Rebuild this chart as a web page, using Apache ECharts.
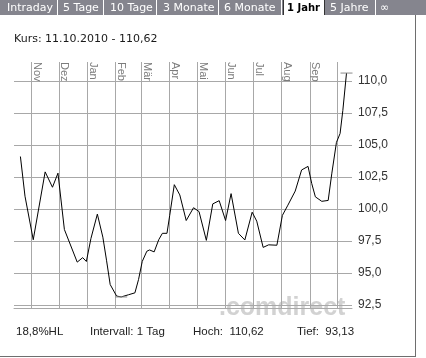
<!DOCTYPE html>
<html><head><meta charset="utf-8">
<script src="https://cdn.jsdelivr.net/npm/echarts@6/dist/echarts.min.js"></script>
<style>html,body{margin:0;padding:0;background:#fff}#c{width:426px;height:358px}</style>
</head><body><div id="c"></div>
<script>
// ---- data ----
const dates = ['2009-10-20','2009-10-25','2009-11-03','2009-11-16','2009-11-24','2009-11-30','2009-12-07','2009-12-21','2009-12-27','2009-12-31','2010-01-05','2010-01-12','2010-01-18','2010-01-22','2010-01-26','2010-02-02','2010-02-07','2010-02-15','2010-02-22','2010-02-26','2010-03-02','2010-03-07','2010-03-10','2010-03-15','2010-03-20','2010-03-24','2010-03-29','2010-04-01','2010-04-06','2010-04-12','2010-04-19','2010-04-27','2010-05-03','2010-05-11','2010-05-18','2010-05-25','2010-06-01','2010-06-07','2010-06-15','2010-06-22','2010-06-30','2010-07-05','2010-07-12','2010-07-18','2010-07-27','2010-08-02','2010-08-08','2010-08-16','2010-08-23','2010-08-30','2010-09-03','2010-09-07','2010-09-14','2010-09-21','2010-09-25','2010-09-30','2010-10-04','2010-10-07','2010-10-11'];
const prices = [104.1,101.0,97.6,102.9,101.7,102.8,98.4,95.85,96.2,95.9,97.7,99.6,97.8,96.0,94.1,93.2,93.13,93.3,93.45,94.5,95.9,96.7,96.8,96.65,97.6,98.1,98.1,99.5,101.9,101.1,99.1,100.1,99.8,97.55,100.4,100.65,99.1,101.2,98.1,97.58,99.75,99.05,97.0,97.2,97.17,99.5,100.3,101.4,103.05,103.33,102.0,100.95,100.6,100.67,102.8,105.2,105.9,107.7,110.62];
const monthTicks = ['2009-11-01','2009-12-01','2010-01-01','2010-02-01','2010-03-01','2010-04-01','2010-05-01','2010-06-01','2010-07-01','2010-08-01','2010-09-01','2010-10-01'];
const monthLabels = ['Nov','Dez','Jan','Feb','Mär','Apr','Mai','Jun','Jul','Aug','Sep',''];
const yTicks = [92.5,95,97.5,100,102.5,105,107.5,110];
const xRange = ['2009-10-13','2010-10-17'];
const yRange = [92.266, 111.484];
const tabs = ['Intraday','5 Tage','10 Tage','3 Monate','6 Monate','1 Jahr','5 Jahre','∞'];
const headline = 'Kurs: 11.10.2010 - 110,62';
const footer = ['18,8%HL','Intervall: 1 Tag','Hoch:  110,62','Tief:  93,13'];

// ---- helpers ----
const t = s => { const p = s.split('-').map(Number); return new Date(p[0], p[1]-1, p[2]).getTime(); };
const monthTs = monthTicks.map(t);
const seriesData = dates.map((d,i) => [t(d), prices[i]]);
const fmtY = v => v.toFixed(1).replace('.', ',');
const GRID = '#a8a8a8';

const tabX = [7,63,110,163,224,287,330,380];
const sepX = [57.5,103.5,156.5,218.5,281.5,375.5];
const footX = [16,90,193,297];

const graphic = [
  {type:'rect', shape:{x:0,y:0,width:426,height:15}, style:{fill:'#85858e'}, z:1},
  {type:'rect', shape:{x:283,y:0,width:41,height:15}, style:{fill:'#ffffff'}, z:2},
  {type:'line', shape:{x1:283.5,y1:0,x2:283.5,y2:15}, style:{stroke:'#333',lineWidth:1}, z:3},
  {type:'line', shape:{x1:324.5,y1:0,x2:324.5,y2:15}, style:{stroke:'#333',lineWidth:1}, z:3},
  ...sepX.map(x => ({type:'line', shape:{x1:x,y1:0,x2:x,y2:15}, style:{stroke:'#ffffff',lineWidth:1}, z:3})),
  ...tabs.map((s,i) => ({type:'text', z:4, style:{text:s, x:tabX[i], y:8, fill: i===5?'#000':'#ffffff',
      fontSize: i===5?10:11, fontFamily:'DejaVu Sans', fontWeight: i===5?'bold':'normal', verticalAlign:'middle', align:'left'}})),
  {type:'line', shape:{x1:415.5,y1:15,x2:415.5,y2:357}, style:{stroke:'#6e6e6e',lineWidth:1}, z:3},
  {type:'line', shape:{x1:0,y1:356.5,x2:416,y2:356.5}, style:{stroke:'#6e6e6e',lineWidth:1}, z:3},
  {type:'text', z:4, style:{text:headline, x:14, y:39, fill:'#1a1a1a', fontSize:11, fontFamily:'DejaVu Sans', verticalAlign:'middle'}},
  ...footer.map((s,i) => ({type:'text', z:4, style:{text:s, x:footX[i], y:332, fill:'#222', fontSize:11.5, fontFamily:'Liberation Sans', verticalAlign:'middle'}})),
  {type:'text', z:-1, style:{text:'.comdirect', x:219, y:296, fill:'#d2d2d2', fontSize:25, fontWeight:'bold', fontFamily:'Liberation Sans', verticalAlign:'alphabetic'}}
];

const chart = echarts.init(document.getElementById('c'), null, {renderer:'canvas'});
chart.setOption({
  animation:false,
  backgroundColor:'#ffffff',
  grid:{left:14, right:74, top:62, bottom:50, containLabel:false, outerBoundsMode:'none'},
  xAxis:[{
    type:'value', position:'top', min:t(xRange[0]), max:t(xRange[1]), scale:true,
    axisLine:{show:false},
    axisTick:{show:false, customValues:monthTs},
    splitLine:{show:true, lineStyle:{color:GRID, width:1}},
    axisLabel:{show:true, customValues:monthTs, inside:true, rotate:90, margin:0, hideOverlap:false,
      verticalAlign:'bottom', color:'#7c7c7c', fontSize:11, fontFamily:'Liberation Sans',
      formatter: v => { const i = monthTs.indexOf(v); return i>=0 ? monthLabels[i] : ''; }}
  },{
    type:'value', position:'bottom', min:t(xRange[0]), max:t(xRange[1]), scale:true,
    axisLine:{show:true, lineStyle:{color:GRID, width:1}},
    axisTick:{show:false}, axisLabel:{show:false}, splitLine:{show:false}
  }],
  yAxis:{
    type:'value', position:'right', min:yRange[0], max:yRange[1], scale:true,
    axisLine:{show:false},
    axisTick:{show:false, customValues:yTicks},
    splitLine:{show:true, lineStyle:{color:GRID, width:1}},
    axisLabel:{customValues:yTicks, margin:6, color:'#333', fontSize:12, fontFamily:'Liberation Sans', formatter:fmtY}
  },
  series:[{
    type:'line', xAxisIndex:0, data:seriesData, showSymbol:false, symbol:'none',
    lineStyle:{color:'#000', width:1}, silent:true,
    markPoint:{symbol:'rect', symbolSize:[12,1], silent:true, label:{show:false},
      itemStyle:{color:'#8a8a8a'}, data:[{type:'max'},{type:'min'}]}
  }],
  graphic: graphic
});
</script></body></html>
